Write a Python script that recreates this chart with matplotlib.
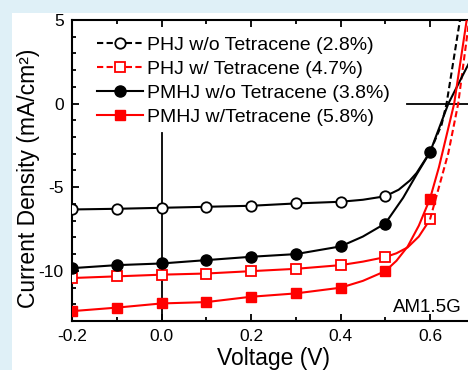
import matplotlib
matplotlib.use('Agg')
import matplotlib.pyplot as plt
from matplotlib.lines import Line2D
from matplotlib.patches import Rectangle
from matplotlib.ticker import MultipleLocator

plt.rcParams['font.family'] = ['Liberation Sans', 'DejaVu Sans']

# marker voltages (V)
v_mark = [-0.2, -0.1, 0.0, 0.1, 0.2, 0.3, 0.4, 0.5, 0.6]

phj_wo_v = [-0.2, -0.1, 0.0, 0.1, 0.2, 0.3, 0.4, 0.45, 0.5, 0.53, 0.555, 0.57, 0.6]
phj_wo_j = [-6.33, -6.29, -6.23, -6.17, -6.11, -5.97, -5.87, -5.75, -5.54, -5.15, -4.6, -4.15, -2.9]
phj_wo_tail_v = [0.6, 0.626, 0.637, 0.667]
phj_wo_tail_j = [-2.9, -1.25, 0.0, 5.0]

# PHJ w/ Tetracene
phj_w_v = [-0.2, -0.1, 0.0, 0.1, 0.2, 0.3, 0.4, 0.45, 0.5, 0.525, 0.55, 0.575, 0.6]
phj_w_j = [-10.43, -10.33, -10.23, -10.16, -10.02, -9.88, -9.66, -9.45, -9.18, -8.95, -8.6, -7.95, -6.93]
phj_w_tail_v = [0.6, 0.641, 0.663, 0.69]
phj_w_tail_j = [-6.93, -2.95, 0.0, 5.5]

# PMHJ w/o Tetracene
pmhj_wo_v = [-0.2, -0.1, 0.0, 0.1, 0.2, 0.3, 0.4, 0.45, 0.5, 0.54, 0.57, 0.6, 0.641, 0.7]
pmhj_wo_j = [-9.84, -9.66, -9.56, -9.36, -9.16, -9.0, -8.54, -7.95, -7.17, -5.63, -4.24, -2.91, 0.0, 3.1]

# PMHJ w/ Tetracene
pmhj_w_v = [-0.2, -0.1, 0.0, 0.1, 0.2, 0.3, 0.4, 0.45, 0.5, 0.525, 0.55, 0.575, 0.6, 0.62, 0.654, 0.682]
pmhj_w_j = [-12.41, -12.2, -11.95, -11.87, -11.55, -11.35, -11.01, -10.6, -10.02, -9.4, -8.55, -7.3,
            -5.69, -3.8, 0.0, 5.0]

labels = ['PHJ w/o Tetracene (2.8%)', 'PHJ w/ Tetracene (4.7%)',
          'PMHJ w/o Tetracene (3.8%)', 'PMHJ w/Tetracene (5.8%)']


def marker_idx(v):
    return [i for i, x in enumerate(v) if any(abs(x - m) < 1e-9 for m in v_mark)]


fig = plt.figure(figsize=(4.68, 3.70), dpi=100)
fig.patch.set_facecolor('#dff0f7')
fig.patches.append(Rectangle((12 / 468, 0), 1, 1 - 13 / 370, transform=fig.transFigure,
                             facecolor='white', edgecolor='none', zorder=-10))

ax = fig.add_axes([72 / 468, 49 / 370, (474.75 - 72) / 468, 301 / 370])
ax.set_facecolor('white')

lw = 1.5
dash = (0, (3, 1.6))
# reference cross lines
ax.plot([0, 0], [-1.75, -13], color='black', lw=1.3, zorder=2)
ax.plot([0.548, 0.75], [0, 0], color='black', lw=1.3, zorder=2)

ax.plot(phj_wo_v, phj_wo_j, color='black', lw=lw, marker='o', mfc='white', mec='black',
        mew=1.3, ms=7.5, markevery=marker_idx(phj_wo_v[:-1]), zorder=3)
ax.plot(phj_wo_tail_v, phj_wo_tail_j, color='black', lw=lw, ls=dash, zorder=3)

ax.plot(phj_w_v, phj_w_j, color='red', lw=lw, marker='s', mfc='white', mec='red',
        mew=1.3, ms=7, markevery=marker_idx(phj_w_v), zorder=3)
ax.plot(phj_w_tail_v, phj_w_tail_j, color='red', lw=lw, ls=dash, zorder=3)

ax.plot(pmhj_wo_v, pmhj_wo_j, color='black', lw=lw, marker='o', mfc='black', mec='black',
        ms=8, markevery=marker_idx(pmhj_wo_v), zorder=4)
ax.plot(pmhj_w_v, pmhj_w_j, color='red', lw=lw, marker='s', mfc='red', mec='red',
        ms=7.5, markevery=marker_idx(pmhj_w_v), zorder=4)

ax.set_xlim(-0.2, 0.7)
ax.set_ylim(-13, 5)
ax.xaxis.set_major_locator(MultipleLocator(0.2))
ax.xaxis.set_minor_locator(MultipleLocator(0.1))
ax.yaxis.set_major_locator(MultipleLocator(5))
ax.yaxis.set_minor_locator(MultipleLocator(1))
ax.xaxis.set_major_formatter(matplotlib.ticker.FuncFormatter(lambda x, p: f'{x:.1f}'))
ax.yaxis.set_major_formatter(matplotlib.ticker.FuncFormatter(lambda y, p: f'{y:.0f}'))
ax.tick_params(which='both', direction='in', top=True, right=False, width=1.3,
               labelsize=12.5, pad=6)
ax.tick_params(which='major', length=5)
ax.tick_params(which='minor', length=3)
for s in ax.spines.values():
    s.set_linewidth(1.5)

ax.set_xlabel('Voltage (V)', fontsize=16.5)
ax.set_ylabel('Current Density (mA/cm²)', fontsize=16.5)
ax.xaxis.set_label_coords(0.5, -0.085)
ax.yaxis.set_label_coords(-0.08, 0.475)

ax.text(0.593, -12.2, 'AM1.5G', fontsize=13.5, ha='center', va='center')

handles = [
    Line2D([], [], color='black', lw=lw, ls=dash, marker='o', mfc='white',
           mec='black', mew=1.3, ms=7.5),
    Line2D([], [], color='red', lw=lw, ls=dash, marker='s', mfc='white',
           mec='red', mew=1.3, ms=7),
    Line2D([], [], color='black', lw=lw, marker='o', mfc='black', mec='black', ms=8),
    Line2D([], [], color='red', lw=lw, marker='s', mfc='red', mec='red', ms=7.5),
]
ax.legend(handles, labels, loc='upper left', bbox_to_anchor=(0.062, 0.945), frameon=False,
          fontsize=14, handlelength=2.37, handletextpad=0.2, labelspacing=0.33,
          borderaxespad=0.0, borderpad=0.0)

fig.savefig('out.png', dpi=100)
